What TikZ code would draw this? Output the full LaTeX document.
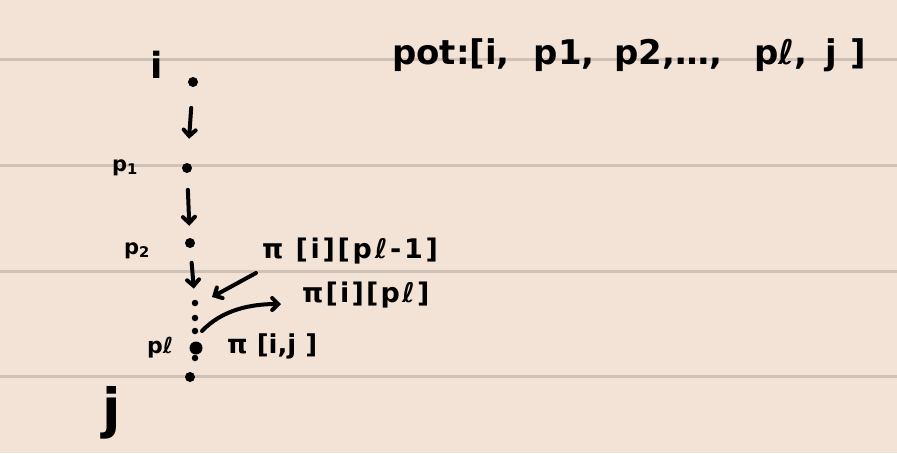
\documentclass[tikz,border=0pt]{standalone}
\usepackage{fontspec}
\setmainfont{DejaVu Sans}
\usetikzlibrary{arrows.meta,calc}
\definecolor{paper}{HTML}{F3E3D7}
\definecolor{rulecol}{HTML}{CFC1B6}
\begin{document}
\begin{tikzpicture}[x=1pt,y=-1pt,
  ink/.style={line width=4pt, line cap=round, black},
  arr/.style={ink,-{Straight Barb[length=6pt,width=12pt,line cap=round]}},
  lbl/.style={font=\bfseries\fontsize{21}{23}\selectfont, inner sep=0, anchor=base west},
  bigdot/.style={circle, fill=black, inner sep=0, minimum size=10pt},
  smalldot/.style={circle, fill=black, inner sep=0, minimum size=6.5pt},
  paperline/.style={rulecol, line width=3pt}]
\fill[paper] (0,0) rectangle (897,453);
\useasboundingbox (0,0) rectangle (897,453);
\foreach \yy in {59.5,165,271,376.5} \draw[paperline] (0,\yy) -- (897,\yy);
% title
\node[lbl, font=\bfseries\fontsize{34}{36}\selectfont] (title) at (392,64) {pot:[i,\hspace{12pt} p1,\hspace{8pt} p2,…,\hspace{20pt} pℓ,\hspace{6pt} j\hspace{14pt}]};
% points
\node[bigdot] (i) at (193,82) {};
\node[bigdot] (p1) at (187,168) {};
\node[bigdot] (p2) at (190,243) {};
\node[smalldot] (d1) at (195,303) {};
\node[smalldot] (d2) at (195,318) {};
\node[smalldot] (d3) at (195,331) {};
\node[bigdot, minimum size=13pt] (pl) at (196,348) {};
\node[smalldot] (d4) at (195,358) {};
\node[bigdot] (pj) at (190,377) {};
% point labels
\node[lbl, font=\bfseries\fontsize{36}{38}\selectfont] (li) at (150,78) {i};
\node[lbl] (lp1) at (112,171) {p\textsubscript{1}};
\node[lbl] (lp2) at (124,254) {p\textsubscript{2}};
\node[lbl, font=\bfseries\fontsize{22}{24}\selectfont] (lpl) at (147,353) {pℓ};
\node[lbl, font=\bfseries\fontsize{54}{56}\selectfont] (lj) at (102,427) {j};
% down arrows
\draw[arr] ($(i)!0.3!(p1)$) -- ($(i)!0.66!(p1)$);
\draw[arr] ($(p1)!0.29!(p2)$) -- ($(p1)!0.77!(p2)$);
\draw[arr] ($(p2)!0.33!(d1)$) -- ($(p2)!0.76!(d1)$);
% pi labels
\node[lbl, font=\bfseries\fontsize{27}{29}\selectfont\addfontfeature{LetterSpace=10}] (pim1) at (262,258) {π [i][pℓ-1]};
\node[lbl, font=\bfseries\fontsize{27}{29}\selectfont\addfontfeature{LetterSpace=8}] (pil) at (302,302) {π[i][pℓ]};
\node[lbl, font=\bfseries\fontsize{26}{28}\selectfont] (pij) at (227,353) {π [i,j ]};
% side arrows
\coordinate (a1s) at (256,273);
\coordinate (a1e) at (212,297);
\draw[arr] (a1s) -- (a1e);
\coordinate (a2s) at (202,331);
\coordinate (a2e) at (281,304);
\draw[arr] (a2s) .. controls (222,310) and (250,304) .. (a2e);
\end{tikzpicture}
\end{document}
